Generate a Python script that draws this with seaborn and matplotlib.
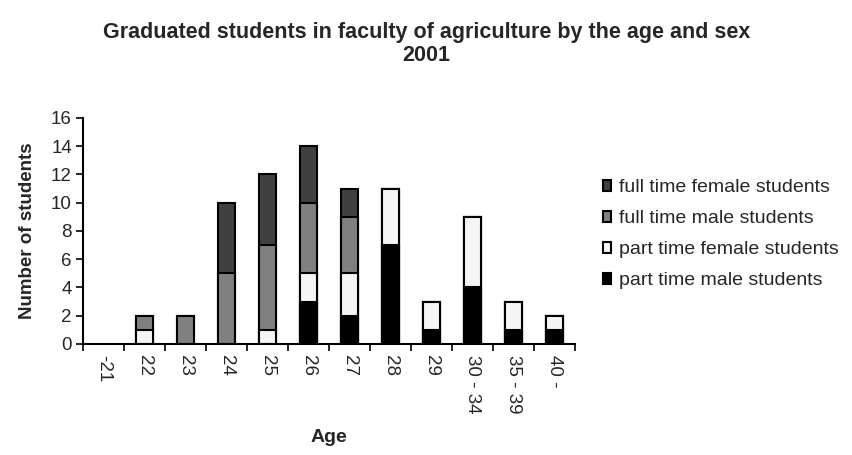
import numpy as np
import pandas as pd
import matplotlib
matplotlib.use("Agg")
import matplotlib.pyplot as plt
from matplotlib.patches import Patch
import seaborn as sns

ages = ["-21", "22", "23", "24", "25", "26", "27", "28", "29", "30 - 34", "35 - 39", "40 -"]
part_time_male = [0, 0, 0, 0, 0, 3, 2, 7, 1, 4, 1, 1]
part_time_female = [0, 1, 0, 0, 1, 2, 3, 4, 2, 5, 2, 1]
full_time_male = [0, 1, 2, 5, 6, 5, 4, 0, 0, 0, 0, 0]
full_time_female = [0, 0, 0, 5, 5, 4, 2, 0, 0, 0, 0, 0]

series = [
    ("part time male students", part_time_male, "#000000"),
    ("part time female students", part_time_female, "#f5f5f5"),
    ("full time male students", full_time_male, "#808080"),
    ("full time female students", full_time_female, "#404040"),
]

sns.set_style("ticks")
plt.rcParams["font.family"] = ["Liberation Sans", "DejaVu Sans"]

df = pd.DataFrame({"age": ages})
running = np.zeros(len(ages))
for name, vals, _ in series:
    running = running + np.array(vals)
    df[name] = running

fig = plt.figure(figsize=(8.53, 4.55), dpi=100)
ax = fig.add_axes([0.0973, 0.244, 0.577, 0.497])

# stacked bars: draw cumulative totals from the top layer down
for name, _, color in reversed(series):
    sns.barplot(data=df, x="age", y=name, order=ages, color=color,
                edgecolor="black", linewidth=1.5, width=0.4, saturation=1,
                ax=ax)
    # hide zero-height patches
    for p in ax.patches:
        if p.get_height() == 0:
            p.set_visible(False)

ax.set_xlim(-0.5, len(ages) - 0.5)
ax.set_ylim(0, 16)
ax.set_yticks(range(0, 17, 2))
ax.set_xticks(range(len(ages)))
ax.set_xticklabels(ages, rotation=270, fontsize=13.5)
ax.set_xticks(np.arange(-0.5, len(ages), 1), minor=True)
ax.tick_params(axis="x", which="major", length=0, pad=8)
ax.tick_params(axis="x", which="minor", length=5, width=1.2, color="black")
ax.tick_params(axis="y", length=5, width=1.2, color="black", labelsize=13.5, pad=3)
for side in ["left", "bottom"]:
    ax.spines[side].set_linewidth(1.5)
    ax.spines[side].set_color("black")
sns.despine(ax=ax)

ax.set_xlabel("Age", fontsize=14, fontweight="bold", labelpad=11)
ax.set_ylabel("Number of students", fontsize=13.5, fontweight="bold", labelpad=11)

fig.suptitle("Graduated students in faculty of agriculture by the age and sex\n2001",
             fontsize=15.5, fontweight="bold", y=0.952, linespacing=1.15)

handles = [Patch(facecolor=c, edgecolor="black", linewidth=1.5, label=n)
           for n, _, c in reversed(series)]
fig.legend(handles=handles, loc="center left", bbox_to_anchor=(0.696, 0.485),
           frameon=False, fontsize=14, handlelength=0.4, handleheight=0.45,
           handletextpad=0.4, labelspacing=0.72, borderpad=0)

fig.savefig("out.png", dpi=100, facecolor="white")
